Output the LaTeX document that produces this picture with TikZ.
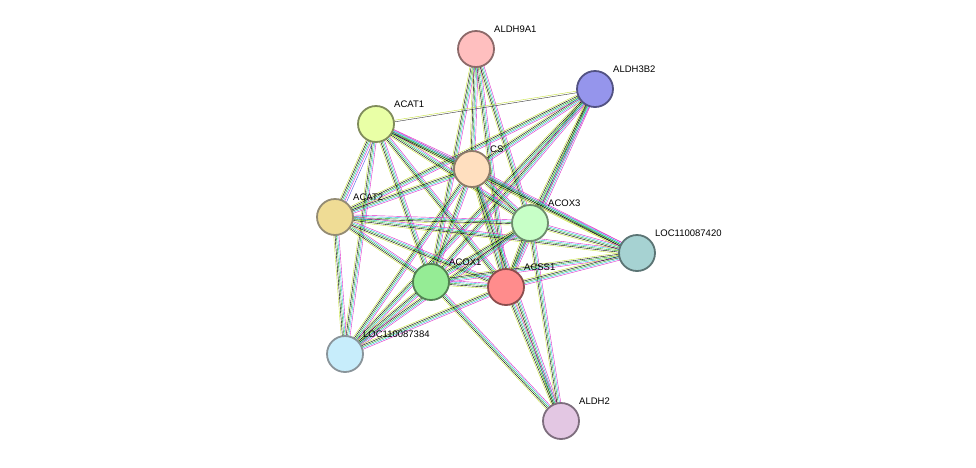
\documentclass[tikz,border=0pt]{standalone}
\usepackage{fontspec}
\setmainfont{Liberation Sans}
\usetikzlibrary{calc, backgrounds}
\definecolor{tmgreen}{RGB}{199,226,60}
\definecolor{dbcyan}{RGB}{40,190,220}
\definecolor{nbgreen}{RGB}{30,160,30}
\definecolor{exmag}{RGB}{220,40,200}
\definecolor{coblue}{RGB}{80,80,230}

\begin{document}
\begin{tikzpicture}[x=1pt, y=-1pt,
prot/.style={circle, draw=#1!55!black, fill=#1, line width=1.8pt, minimum size=36pt, inner sep=0pt},
lbl/.style={font=\fontsize{9.5}{10}\selectfont, inner sep=1pt, anchor=south west}]
\useasboundingbox (0,0) rectangle (976,467);

% proteins
\node[prot={red!25!white}] (aldh9a1) at (476,49) {};
\node[prot={blue!40!white!85!gray}] (aldh3b2) at (595,89) {};
\node[prot={green!25!yellow!35!white}] (acat1) at (376,124) {};
\node[prot={orange!25!white}] (cs) at (472,169) {};
\node[prot={yellow!45!brown!50!white}] (acat2) at (335,217) {};
\node[prot={green!22!white}] (acox3) at (530,223) {};
\node[prot={teal!35!white}] (loc420) at (637,253) {};
\node[prot={green!40!white!85!gray}] (acox1) at (431,282) {};
\node[prot={red!45!white}] (acss1) at (506,287) {};
\node[prot={cyan!22!white}] (loc384) at (345,354) {};
\node[prot={violet!22!white}] (aldh2) at (561,421) {};

% labels
\node[lbl] at (493,34) {ALDH9A1};
\node[lbl] at (612,74) {ALDH3B2};
\node[lbl] at (393,109) {ACAT1};
\node[lbl] at (489,154) {CS};
\node[lbl] at (352,202) {ACAT2};
\node[lbl] at (547,208) {ACOX3};
\node[lbl] at (654,238) {LOC110087420};
\node[lbl] at (448,267) {ACOX1};
\node[lbl] at (523,272) {ACSS1};
\node[lbl] at (362,339) {LOC110087384};
\node[lbl] at (578,406) {ALDH2};

% evidence lines
\begin{scope}[on background layer, line width=1pt]
\foreach \a/\b in {aldh9a1/acox1, aldh9a1/acss1, aldh9a1/acox3, aldh9a1/cs,
  aldh3b2/cs, aldh3b2/acat2, aldh3b2/acox1, aldh3b2/acss1, aldh3b2/acox3, aldh3b2/loc384,
  acat1/cs, acat1/acat2, acat1/acox3, acat1/acox1, acat1/acss1, acat1/loc384, acat1/loc420,
  cs/acat2, cs/acox3, cs/acox1, cs/acss1, cs/loc384, cs/aldh2, cs/loc420,
  acat2/acox3, acat2/acox1, acat2/acss1, acat2/loc384, acat2/loc420,
  acox3/acox1, acox3/acss1, acox3/loc420, acox3/loc384, acox3/aldh2,
  loc420/acox1, loc420/acss1, acox1/acss1, acox1/loc384, acox1/aldh2,
  acss1/loc384, acss1/aldh2}
  \foreach \c [count=\i] in {tmgreen, black, nbgreen, dbcyan, exmag}
    \draw[\c] ($(\a)!{(\i-3)*1.3pt}!90:(\b)$) -- ($(\b)!{(\i-3)*1.3pt}!-90:(\a)$);
\draw[black!80] ($(acat1)!-0.8pt!90:(aldh3b2)$) -- ($(aldh3b2)!-0.8pt!-90:(acat1)$);
\draw[tmgreen] ($(acat1)!0.8pt!90:(aldh3b2)$) -- ($(aldh3b2)!0.8pt!-90:(acat1)$);
\draw[coblue] ($(acat1)!4.5pt!90:(acat2)$) -- ($(acat2)!4.5pt!-90:(acat1)$);
\end{scope}
\end{tikzpicture}
\end{document}
